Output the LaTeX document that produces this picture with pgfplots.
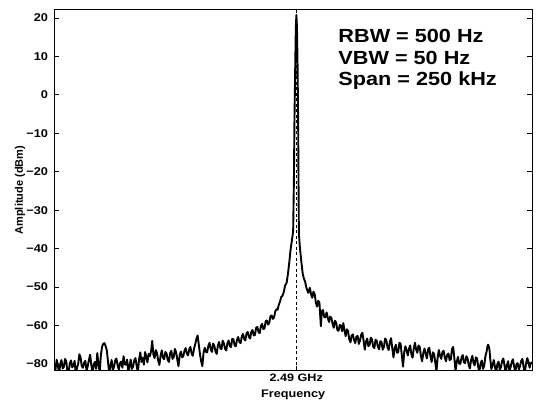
\documentclass[border=0pt]{standalone}
\usepackage{fontspec}
\setmainfont{Liberation Sans}
\usepackage{pgfplots}
\usepackage{pgfplotstable}
\pgfplotsset{compat=1.18}
\pgfplotstableread{
x y
0 -70.2
0.625 -71.5
1.25 -68.9
1.875 -70.4
2.5 -72.5
3.125 -70.0
3.75 -69.0
4.375 -71.2
5 -70.8
5.625 -68.7
6.25 -69.3
6.875 -71.9
7.5 -72.3
8.125 -69.8
8.75 -69.1
9.375 -70.9
10 -70.5
10.625 -69.2
11.25 -72.6
11.875 -71.0
12.5 -70.0
13.125 -67.5
13.75 -68.3
14.375 -70.6
15 -71.0
15.625 -69.7
16.25 -69.2
16.875 -71.8
17.5 -70.6
18.125 -69.0
18.75 -67.6
19.375 -70.3
20 -72.4
20.625 -70.1
21.25 -69.5
21.875 -71.3
22.5 -67.2
23.125 -70.2
23.75 -72.0
24.375 -67.8
25 -65.5
25.625 -64.8
26.25 -64.6
26.875 -65.4
27.5 -66.5
28.125 -69.5
28.75 -72.4
29.375 -70.5
30 -69.0
30.625 -71.6
31.25 -70.8
31.875 -69.1
32.5 -68.6
33.125 -70.4
33.75 -71.5
34.375 -69.8
35 -69.4
35.625 -71.0
36.25 -68.0
36.875 -70.1
37.5 -70.2
38.125 -68.9
38.75 -72.3
39.375 -70.5
40 -68.9
40.625 -71.3
41.25 -70.7
41.875 -69.0
42.5 -68.5
43.125 -70.6
43.75 -72.2
44.375 -68.8
45 -67.0
45.625 -69.5
46.25 -68.4
46.875 -70.2
47.5 -66.9
48.125 -68.1
48.75 -69.6
49.375 -67.4
50 -68.0
50.625 -66.8
51.25 -64.0
51.875 -67.6
52.5 -68.5
53.125 -66.4
53.75 -67.2
54.375 -69.1
55 -70.3
55.625 -67.9
56.25 -66.5
56.875 -68.4
57.5 -68.8
58.125 -66.9
58.75 -67.3
59.375 -69.0
60 -69.5
60.625 -67.2
61.25 -66.6
61.875 -68.7
62.5 -68.2
63.125 -66.1
63.75 -67.0
64.375 -68.9
65 -70.6
65.625 -67.7
66.25 -66.8
66.875 -68.3
67.5 -68.0
68.125 -66.6
68.75 -65.9
69.375 -67.3
70 -67.8
70.625 -66.2
71.25 -65.6
71.875 -67.4
72.5 -67.9
73.125 -66.0
73.75 -64.9
74.375 -63.5
75 -62.6
75.625 -65.0
76.25 -67.5
76.875 -69.4
77.5 -70.6
78.125 -67.0
78.75 -65.8
79.375 -66.9
80 -67.0
80.625 -65.3
81.25 -64.5
81.875 -66.2
82.5 -66.9
83.125 -64.7
83.75 -65.3
84.375 -66.8
85 -67.4
85.625 -65.2
86.25 -64.3
86.875 -65.9
87.5 -66.2
88.125 -64.0
88.75 -64.6
89.375 -66.1
90 -66.5
90.625 -64.6
91.25 -63.9
91.875 -65.4
92.5 -65.6
93.125 -63.5
93.75 -63.6
94.375 -65.2
95 -65.4
95.625 -63.7
96.25 -63.0
96.875 -64.3
97.5 -64.6
98.125 -62.9
98.75 -62.2
99.375 -63.5
100 -63.9
100.625 -62.0
101.25 -61.7
101.875 -63.0
102.5 -63.4
103.125 -61.6
103.75 -61.2
104.375 -62.6
105 -62.5
105.625 -60.6
106.25 -60.4
106.875 -61.7
107.5 -62.0
108.125 -60.1
108.75 -59.6
109.375 -60.9
110 -60.8
110.625 -58.9
111.25 -58.7
111.875 -59.8
112.5 -59.3
113.125 -57.6
113.75 -57.4
114.375 -58.3
115 -57.9
115.625 -56.4
116.25 -55.8
116.875 -55.9
117.5 -54.6
118.125 -53.8
118.75 -52.6
119.375 -52.3
120 -51.5
120.8 -49.6
121.6 -48.9
122.3 -46.5
123.0 -43.5
123.6 -40.5
124.3 -38.0
125.0 -35.5
125.4 -22
125.7 -6
126.1 8
126.4 17.5
126.7 20.8
127.0 17.5
127.3 8
127.6 -6
127.8 -22
128.0 -36
128.5 -39.5
129.3 -43.5
130.0 -46.5
130.6 -47.8
131.25 -48.6
132.0 -50.3
132.9 -51.5
133.75 -50.2
134.375 -51.9
135.0 -52.8
135.625 -51.2
136.25 -51.8
136.875 -54.0
137.5 -55.1
138.125 -53.6
138.75 -54.0
139.5 -60.2
140.0 -56.3
140.625 -56.0
141.25 -57.8
141.875 -57.9
142.5 -56.6
143.125 -58.0
143.75 -59.1
144.375 -57.7
145.0 -58.0
145.625 -59.6
146.25 -60.6
146.875 -58.8
147.5 -59.2
148.125 -61.2
148.75 -61.4
149.375 -59.9
150.0 -60.0
150.625 -61.5
151.25 -59.4
151.875 -61.3
152.5 -62.8
153.125 -61.0
153.75 -61.5
154.375 -63.6
155.0 -64.4
155.625 -62.6
156.25 -62.3
156.875 -63.8
157.5 -64.6
158.125 -62.9
158.75 -62.7
159.375 -64.8
160.0 -63.9
160.625 -62.4
161.25 -61.9
161.875 -64.0
162.5 -66.3
163.125 -64.2
163.75 -63.4
164.375 -65.4
165.0 -65.1
165.625 -63.2
166.25 -63.6
166.875 -65.5
167.5 -65.9
168.125 -63.7
168.75 -64.0
169.375 -65.6
170.0 -66.2
170.625 -64.1
171.25 -64.3
171.875 -66.3
172.5 -65.6
173.125 -63.4
173.75 -63.8
174.375 -65.7
175.0 -66.4
175.625 -64.2
176.25 -63.3
176.875 -65.9
177.5 -68.3
178.125 -66.0
178.75 -65.0
179.375 -67.1
180.0 -66.9
180.625 -64.5
181.25 -64.8
181.875 -67.8
182.5 -70.7
183.125 -67.0
183.75 -65.4
184.375 -66.5
185.0 -67.8
185.625 -66.0
186.25 -65.2
186.875 -67.5
187.5 -68.4
188.125 -66.0
188.75 -64.5
189.375 -66.3
190.0 -67.1
190.625 -65.2
191.25 -65.6
191.875 -68.0
192.5 -69.3
193.125 -67.1
193.75 -66.0
194.375 -67.4
195.0 -68.6
195.625 -66.2
196.25 -65.8
196.875 -68.1
197.5 -69.5
198.125 -67.0
198.75 -67.4
199.375 -69.6
200.0 -71.9
200.625 -68.3
201.25 -66.4
201.875 -67.9
202.5 -68.7
203.125 -66.9
203.75 -66.6
204.375 -68.4
205.0 -69.3
205.625 -67.6
206.25 -67.3
206.875 -69.0
207.5 -68.8
208.125 -66.2
208.75 -65.6
209.375 -68.6
210.0 -71.8
210.625 -69.4
211.25 -68.2
211.875 -69.9
212.5 -70.0
213.125 -68.3
213.75 -67.7
214.375 -69.6
215.0 -69.8
215.625 -68.0
216.25 -68.5
216.875 -70.3
217.5 -71.2
218.125 -69.0
218.75 -67.9
219.375 -69.7
220.0 -70.4
220.625 -68.3
221.25 -68.6
221.875 -70.9
222.5 -72.0
223.125 -69.8
223.75 -69.1
224.375 -71.3
225.0 -70.5
225.625 -68.0
226.25 -66.8
226.625 -65.6
227.0 -65.0
227.375 -65.4
227.75 -66.3
228.25 -69.2
228.75 -71.4
229.375 -70.3
230.0 -69.0
230.625 -70.8
231.25 -72.3
231.875 -70.0
232.5 -69.4
233.125 -71.6
233.75 -70.9
234.375 -69.2
235.0 -68.6
235.625 -70.4
236.25 -72.5
236.875 -70.3
237.5 -69.3
238.125 -71.7
238.75 -71.0
239.375 -69.5
240.0 -68.8
240.625 -70.6
241.25 -72.2
241.875 -70.1
242.5 -69.8
243.125 -71.4
243.75 -70.6
244.375 -69.2
245.0 -68.7
245.625 -70.9
246.25 -72.4
246.875 -69.9
247.5 -68.5
248.125 -69.4
248.75 -71.0
249.375 -69.8
250.0 -69.6
}\trace
\begin{document}
\begin{tikzpicture}
\begin{axis}[
  width=477.7pt, height=361.7pt, scale only axis,
  xmin=0, xmax=250, ymin=-71.85, ymax=22.26,
  axis line style={line width=1pt},
  tick align=inside, major tick length=5pt,
  tick style={black, line width=0.8pt},
  ytick={-70,-60,-50,-40,-30,-20,-10,0,10,20},
  yticklabels={−80,−60,−50,−40,−30,−20,−10,0,10,20},
  xtick={126.6}, xticklabels={2.49 GHz},
  xtick pos=bottom,
  yticklabel style={inner sep=0pt, anchor=east, xshift=-6pt, xscale=1.13, font=\fontsize{11.3}{13}\selectfont\bfseries},
  xticklabel style={inner sep=0pt, anchor=north, yshift=-3pt, xscale=1.17, font=\fontsize{10.8}{13}\selectfont\bfseries},
  xlabel={Frequency},
  xlabel style={at={(axis description cs:0.5,0)}, anchor=north, inner sep=0pt, yshift=-18.3pt, xscale=1.15, font=\fontsize{11}{13}\selectfont\bfseries},
  ylabel={Amplitude (dBm)},
  ylabel style={at={(axis description cs:-0.0718,0.5)}, anchor=center, inner sep=0pt, font=\fontsize{11}{13}\selectfont\bfseries},
]
\addplot[black, line width=1.9pt, line join=round] table[x=x, y=y] {\trace};
\addplot[black, line width=0.8pt, dash pattern=on 3pt off 2.5pt] coordinates {(126.6,-71.85) (126.6,22.26)};
\node[anchor=base west, inner sep=0pt, xscale=1.14, font=\fontsize{19}{21}\selectfont\bfseries] at (axis cs:148.6,13.57) {RBW = 500 Hz};
\node[anchor=base west, inner sep=0pt, xscale=1.14, font=\fontsize{19}{21}\selectfont\bfseries] at (axis cs:148.6,7.98) {VBW = 50 Hz};
\node[anchor=base west, inner sep=0pt, xscale=1.14, font=\fontsize{19}{21}\selectfont\bfseries] at (axis cs:148.6,2.39) {Span = 250 kHz};
\end{axis}
\path ([shift={(-54.3pt,-30pt)}]current axis.south west) rectangle ([shift={(4pt,9.3pt)}]current axis.north east);
\end{tikzpicture}
\end{document}
